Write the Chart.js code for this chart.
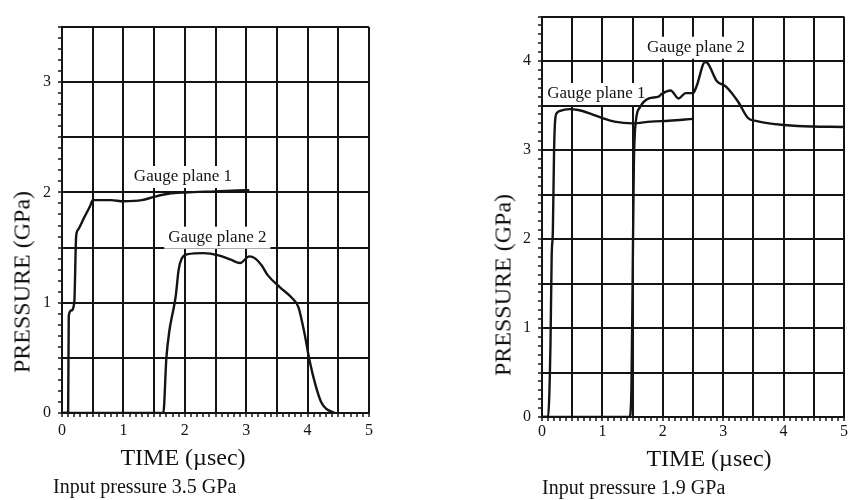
<!DOCTYPE html>
<html>
<head>
<meta charset="utf-8">
<script src="https://cdn.jsdelivr.net/npm/chart.js@4.4.1/dist/chart.umd.min.js"></script>
<style>
  body { margin: 0; background: #fff; }
  #wrap { position: relative; width: 849px; height: 500px; font-family: "Liberation Serif", "DejaVu Serif", serif; color: #111; }
  canvas { position: absolute; top: 0; }
  .ytitle { position: absolute; font-size: 24px; white-space: nowrap; transform: translate(-50%, -50%) rotate(-90deg); }
  .xtitle { position: absolute; font-size: 24px; white-space: nowrap; transform: translate(-50%, -50%); }
  .caption { position: absolute; font-size: 20px; white-space: nowrap; }
</style>
</head>
<body>
<div id="wrap">
  <canvas id="leftChart" width="380" height="445" style="left:0"></canvas>
  <canvas id="rightChart" width="369" height="445" style="left:480px"></canvas>
  <div class="ytitle" style="left:22px; top:282px">PRESSURE (GPa)</div>
  <div class="ytitle" style="left:503px; top:285px">PRESSURE (GPa)</div>
  <div class="xtitle" style="left:183px; top:457px">TIME (µsec)</div>
  <div class="xtitle" style="left:709px; top:458px">TIME (µsec)</div>
  <div class="caption" style="left:53px; top:475px">Input pressure 3.5 GPa</div>
  <div class="caption" style="left:542px; top:476px">Input pressure 1.9 GPa</div>
</div>
<script>
// tick labels
const xTickLabels = [0, 1, 2, 3, 4, 5];
const leftYTickLabels = [0, 1, 2, 3];
const rightYTickLabels = [0, 1, 2, 3, 4];

// input pressure 3.5 GPa
const leftG1Time = [0, 0.1, 0.11, 0.15, 0.2, 0.23, 0.26, 0.35, 0.46, 0.5, 0.8, 1.0, 1.3, 1.5, 1.75, 2.0, 2.5, 3.0, 3.05];
const leftG1Pres = [0, 0, 0.88, 0.93, 1.0, 1.6, 1.66, 1.76, 1.88, 1.93, 1.93, 1.92, 1.93, 1.96, 1.99, 2.0, 2.01, 2.02, 2.02];
const leftG2Time = [0, 1.65, 1.7, 1.75, 1.8, 1.85, 1.9, 1.95, 2.05, 2.3, 2.55, 2.75, 2.9, 3.05, 3.15, 3.25, 3.35, 3.55, 3.75, 3.85, 3.95, 4.03, 4.13, 4.22, 4.3, 4.45];
const leftG2Pres = [0, 0, 0.5, 0.75, 0.9, 1.05, 1.3, 1.4, 1.44, 1.45, 1.43, 1.39, 1.36, 1.42, 1.4, 1.34, 1.25, 1.14, 1.04, 0.96, 0.72, 0.48, 0.25, 0.1, 0.04, 0];

// input pressure 1.9 GPa
const rightG1Time = [0, 0.1, 0.14, 0.16, 0.18, 0.2, 0.22, 0.25, 0.3, 0.45, 0.6, 0.8, 1.0, 1.2, 1.5, 1.8, 2.1, 2.5];
const rightG1Pres = [0, 0, 0.8, 1.8, 2.1, 3.0, 3.35, 3.42, 3.44, 3.46, 3.45, 3.41, 3.36, 3.32, 3.3, 3.32, 3.33, 3.35];
const rightG2Time = [0, 1.45, 1.48, 1.5, 1.52, 1.55, 1.62, 1.77, 1.93, 1.98, 2.13, 2.26, 2.38, 2.5, 2.56, 2.7, 2.75, 2.89, 3.05, 3.25, 3.41, 3.52, 4.23, 5.0];
const rightG2Pres = [0, 0, 0.3, 1.5, 2.8, 3.3, 3.48, 3.58, 3.6, 3.63, 3.67, 3.58, 3.64, 3.64, 3.72, 3.99, 3.97, 3.78, 3.71, 3.54, 3.36, 3.33, 3.27, 3.26];

// curve labels
const leftNoteText = ['Gauge plane 1', 'Gauge plane 2'];
const leftNoteTime = [1.97, 2.53];
const leftNotePres = [2.14, 1.59];
const rightNoteText = ['Gauge plane 1', 'Gauge plane 2'];
const rightNoteTime = [0.9, 2.55];
const rightNotePres = [3.63, 4.15];

const INK = '#141414';

function zip(ts, ps) {
  return ts.map(function (t, i) { return { x: t, y: ps[i] }; });
}

function onlyListed(list) {
  return function (v) {
    const hit = list.find(function (t) { return Math.abs(t - v) < 1e-6; });
    return hit === undefined ? '' : String(hit);
  };
}

function halfGrid(ctx) {
  const v = ctx.tick ? ctx.tick.value : 0;
  return Math.abs(v * 2 - Math.round(v * 2)) < 1e-6 ? INK : 'rgba(0,0,0,0)';
}

// white-boxed labels placed at data coordinates, under the curves
const notesPlugin = {
  id: 'notes',
  beforeDatasetsDraw(chart, args, opts) {
    const ctx = chart.ctx;
    const x = chart.scales.x, y = chart.scales.y;
    ctx.save();
    ctx.font = '17px "Liberation Serif"';
    ctx.textAlign = 'center';
    ctx.textBaseline = 'middle';
    opts.text.forEach(function (t, i) {
      const px = x.getPixelForValue(opts.time[i]);
      const py = y.getPixelForValue(opts.pres[i]);
      const w = ctx.measureText(t).width;
      ctx.fillStyle = '#fff';
      ctx.fillRect(px - w / 2 - 4, py - 11, w + 8, 22);
      ctx.fillStyle = INK;
      ctx.fillText(t, px, py);
    });
    ctx.restore();
  }
};

function line(data) {
  return {
    data: data,
    borderColor: INK,
    borderWidth: 2.4,
    pointRadius: 0,
    cubicInterpolationMode: 'monotone',
    fill: false
  };
}

function makeChart(id, sets, yMax, yLabels, notes, pad, xHeight, xPad) {
  return new Chart(document.getElementById(id), {
    type: 'line',
    data: { datasets: sets.map(line) },
    plugins: [notesPlugin],
    options: {
      responsive: false,
      animation: false,
      layout: { padding: pad },
      plugins: {
        legend: { display: false },
        tooltip: { enabled: false },
        notes: notes
      },
      scales: {
        x: {
          type: 'linear', min: 0, max: 5,
          afterFit: function (s) { s.height = xHeight; },
          border: { display: true, color: INK, width: 2 },
          grid: { color: halfGrid, lineWidth: 2, tickColor: INK, tickWidth: 1.5, tickLength: 4 },
          ticks: {
            stepSize: 0.1, autoSkip: false, maxRotation: 0, padding: xPad, color: INK,
            font: { family: 'Liberation Serif', size: 16 },
            callback: onlyListed(xTickLabels)
          }
        },
        y: {
          type: 'linear', min: 0, max: yMax,
          afterFit: function (s) { s.width = 62; },
          border: { display: true, color: INK, width: 2 },
          grid: { color: halfGrid, lineWidth: 2, tickColor: INK, tickWidth: 1.5, tickLength: 4 },
          ticks: {
            stepSize: 0.1, autoSkip: false, padding: 7, color: INK,
            font: { family: 'Liberation Serif', size: 16 },
            callback: onlyListed(yLabels)
          }
        }
      }
    }
  });
}

makeChart('leftChart',
  [zip(leftG1Time, leftG1Pres), zip(leftG2Time, leftG2Pres)],
  3.5, leftYTickLabels,
  { text: leftNoteText, time: leftNoteTime, pres: leftNotePres },
  { left: 0, top: 27, right: 11, bottom: 0 }, 32, 4);

makeChart('rightChart',
  [zip(rightG1Time, rightG1Pres), zip(rightG2Time, rightG2Pres)],
  4.5, rightYTickLabels,
  { text: rightNoteText, time: rightNoteTime, pres: rightNotePres },
  { left: 0, top: 11, right: 3, bottom: 0 }, 28, 1);
</script>
</body>
</html>
